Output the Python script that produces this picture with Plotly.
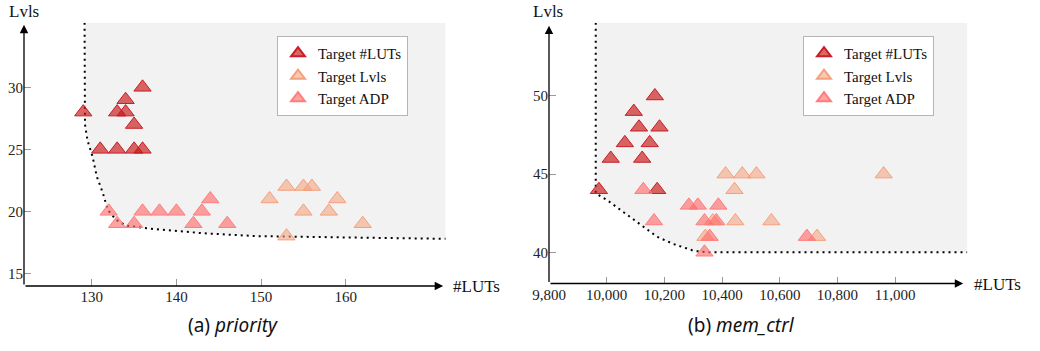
import plotly.graph_objects as go

# ---------------- data: (a) priority ----------------
a_luts_x = [129, 131, 133, 135, 136, 133, 134, 134, 135, 136]
a_luts_y = [28, 25, 25, 25, 25, 28, 28, 29, 27, 30]
a_lvls_x = [151, 153, 155, 156, 155, 158, 159, 162, 153]
a_lvls_y = [21, 22, 22, 22, 20, 20, 21, 19, 18]
a_adp_x = [132, 133, 135, 136, 138, 140, 142, 143, 144, 146]
a_adp_y = [20, 19, 19, 20, 20, 20, 19, 20, 21, 19]
a_front_x = [129.15, 129.15, 129.2, 129.5, 130.1, 130.6, 131.3, 131.9, 132.9, 134.1,
             136.5, 139.6, 143.2, 149.5, 160, 171.8]
a_front_y = [35.21, 30, 27.0, 25.7, 24.4, 22.8, 21.5, 20.1, 19.3, 18.84,
             18.63, 18.44, 18.23, 18.0, 17.87, 17.78]
a_xticks = [130, 140, 150, 160]
a_yticks = [15, 20, 25, 30]

# ---------------- data: (b) mem_ctrl ----------------
b_luts_x = [10167, 10094, 10112, 10183, 10063, 10149, 10014, 10123, 9973, 10175]
b_luts_y = [50, 49, 48, 48, 47, 47, 46, 46, 44, 44]
b_lvls_x = [10412, 10470, 10519, 10443, 10446, 10571, 10729, 10960, 10342, 10368]
b_lvls_y = [45, 45, 45, 44, 42, 42, 41, 45, 41, 42]
b_adp_x = [10127, 10164, 10285, 10316, 10339, 10380, 10387, 10357, 10339, 10694]
b_adp_y = [44, 42, 43, 43, 42, 42, 43, 41, 40, 41]
b_front_x = [9962, 9962, 10001, 10071, 10117, 10175, 10232, 10302, 10348, 11250]
b_front_y = [54.69, 43.77, 43.34, 42.38, 41.74, 40.99, 40.52, 40.09, 40.0, 40.0]
b_xticks = [9800, 10000, 10200, 10400, 10600, 10800, 11000]
b_yticks = [40, 45, 50]

series_names = ["Target #LUTs", "Target Lvls", "Target ADP"]
fills = ["rgba(200,20,20,0.65)", "rgba(244,165,130,0.6)", "rgba(255,100,100,0.6)"]
edges = ["rgb(200,30,40)", "rgb(244,160,125)", "rgb(255,125,125)"]

SERIF = "Liberation Serif, Times New Roman, serif"
SANS = "Noto Sans, sans-serif"

A_XR = [122, 171.8]
A_YR = [13.98, 35.21]
B_XR = [9800, 11250]
B_YR = [38.0, 54.69]

fig = go.Figure()


def add_panel(xa, ya, fx, fy, xr, yr, series, legend):
    # shaded feasible region above the frontier
    px = list(fx) + [xr[1], fx[0]]
    py = list(fy) + [yr[1], yr[1]]
    fig.add_trace(go.Scatter(x=px, y=py, fill="toself", fillcolor="#f2f2f2",
                             line=dict(width=0), mode="lines", hoverinfo="skip",
                             showlegend=False, xaxis=xa, yaxis=ya))
    fig.add_trace(go.Scatter(x=fx, y=fy, mode="lines",
                             line=dict(color="black", width=2, dash="2px,4px"),
                             showlegend=False, xaxis=xa, yaxis=ya))
    for (sx, sy), name, fc, ec in zip(series, series_names, fills, edges):
        fig.add_trace(go.Scatter(x=sx, y=sy, mode="markers", name=name,
                                 marker=dict(symbol="triangle-up", size=15, color=fc,
                                             line=dict(color=ec, width=1)),
                                 xaxis=xa, yaxis=ya, legend=legend))


add_panel("x", "y", a_front_x, a_front_y, A_XR, A_YR,
          [(a_luts_x, a_luts_y), (a_lvls_x, a_lvls_y), (a_adp_x, a_adp_y)], "legend")
add_panel("x2", "y2", b_front_x, b_front_y, B_XR, B_YR,
          [(b_luts_x, b_luts_y), (b_lvls_x, b_lvls_y), (b_adp_x, b_adp_y)], "legend2")

tickfont = dict(family=SERIF, size=15, color="#222")
common = dict(showgrid=False, zeroline=False, showline=False, ticks="inside",
              ticklen=7, tickcolor="#999", tickwidth=1, tickfont=tickfont,
              automargin=False)

legfont = dict(family=SERIF, size=15, color="#111")
fig.update_layout(
    width=1040, height=351,
    font=dict(family=SERIF, size=15, color="#111"),
    margin=dict(l=0, r=0, t=0, b=0, autoexpand=False),
    paper_bgcolor="white", plot_bgcolor="white",
    xaxis=dict(domain=[24 / 1040, 445.7 / 1040], range=A_XR, tickvals=a_xticks,
               anchor="y", **common),
    yaxis=dict(domain=[65 / 351, 328.3 / 351], range=A_YR, tickvals=a_yticks,
               anchor="x", **common),
    xaxis2=dict(domain=[549 / 1040, 967.3 / 1040], range=B_XR, tickvals=b_xticks,
                tickformat=",d", anchor="y2", **common),
    yaxis2=dict(domain=[67.5 / 351, 328.3 / 351], range=B_YR, tickvals=b_yticks,
                anchor="x2", **common),
    legend=dict(x=277 / 1040, y=(351 - 36) / 351, xanchor="left", yanchor="top",
                bgcolor="white", bordercolor="#b5b5b5", borderwidth=1,
                font=legfont, itemsizing="constant",
                entrywidth=120, entrywidthmode="pixels"),
    legend2=dict(x=803 / 1040, y=(351 - 36) / 351, xanchor="left", yanchor="top",
                 bgcolor="white", bordercolor="#b5b5b5", borderwidth=1,
                 font=legfont, itemsizing="constant",
                 entrywidth=120, entrywidthmode="pixels"),
    showlegend=True,
)

ann = []


def axis_arrows(xr_, yr_, xref, yref, xtip, ytip):
    for (x, y, ax, ay) in [(xtip, yr_[0], xr_[0], yr_[0]), (xr_[0], ytip, xr_[0], yr_[0])]:
        ann.append(dict(x=x, y=y, ax=ax, ay=ay, xref=xref, yref=yref, axref=xref, ayref=yref,
                        text="", showarrow=True, arrowhead=2, arrowsize=1.3,
                        arrowwidth=1.3, arrowcolor="black", standoff=0, startstandoff=0))


axis_arrows(A_XR, A_YR, "x", "y", 171.5, 35.05)
axis_arrows(B_XR, B_YR, "x2", "y2", 11236, 54.5)

lab = dict(family=SERIF, size=17, color="#111")
ann += [
    dict(x=24 / 1040, y=(351 - 11) / 351, xref="paper", yref="paper", text="Lvls",
         showarrow=False, font=lab, xanchor="center", yanchor="middle"),
    dict(x=548 / 1040, y=(351 - 11) / 351, xref="paper", yref="paper", text="Lvls",
         showarrow=False, font=lab, xanchor="center", yanchor="middle"),
    dict(x=451 / 1040, y=(351 - 286) / 351, xref="paper", yref="paper", text="#LUTs",
         showarrow=False, font=lab, xanchor="left", yanchor="middle"),
    dict(x=972 / 1040, y=(351 - 284) / 351, xref="paper", yref="paper", text="#LUTs",
         showarrow=False, font=lab, xanchor="left", yanchor="middle"),
    dict(x=233 / 1040, y=(351 - 325) / 351, xref="paper", yref="paper",
         text="(a) <i>priority</i>", showarrow=False,
         font=dict(family=SANS, size=19, color="#111"), xanchor="center", yanchor="middle"),
    dict(x=741 / 1040, y=(351 - 325) / 351, xref="paper", yref="paper",
         text="(b) <i>mem_ctrl</i>", showarrow=False,
         font=dict(family=SANS, size=19, color="#111"), xanchor="center", yanchor="middle"),
]
fig.update_layout(annotations=ann)

fig.write_html("out.html")
